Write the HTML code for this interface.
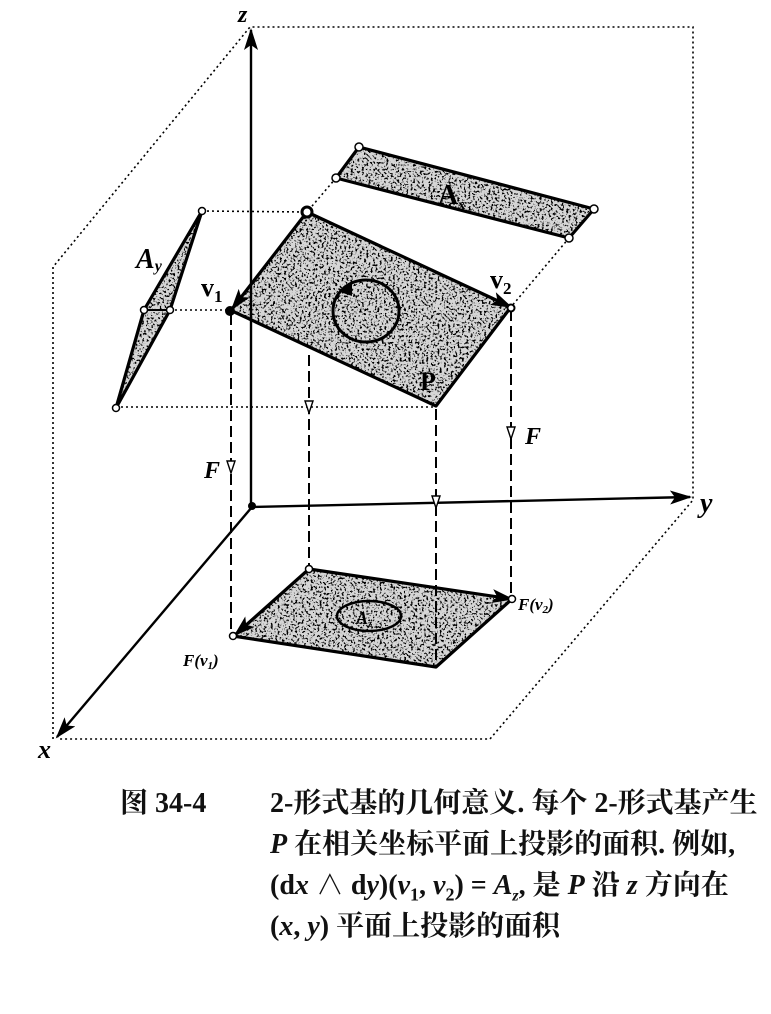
<!DOCTYPE html>
<html><head><meta charset="utf-8"><style>
html,body{margin:0;padding:0;background:#fff;width:771px;height:1014px;overflow:hidden}
svg{position:absolute;left:0;top:0}
.cap{position:absolute;font-family:"Liberation Serif","Noto Serif CJK SC",serif;font-weight:bold;font-size:28px;color:#111;line-height:41px;white-space:nowrap}
.it{font-style:italic}
</style></head><body>
<svg width="771" height="1014" viewBox="0 0 771 1014">
<defs>
<filter id="tx" x="0" y="0" width="100%" height="100%" filterUnits="objectBoundingBox">
<feTurbulence type="fractalNoise" baseFrequency="0.45" numOctaves="2" seed="3" result="n"/>
<feColorMatrix in="n" type="matrix" values="0 0 0 0 0  0 0 0 0 0  0 0 0 0 0  -9 0 0 0 4.3" result="a"/>
<feFlood flood-color="#d6d6d6" result="bg"/>
<feComposite in="SourceGraphic" in2="a" operator="in" result="dk"/>
<feMerge><feMergeNode in="bg"/><feMergeNode in="dk"/></feMerge>
</filter>
<marker id="ab" markerWidth="22" markerHeight="14" refX="20" refY="7" orient="auto" markerUnits="userSpaceOnUse"><path d="M0,0 L22,7 L0,14 L5,7z" fill="#000"/></marker>
<clipPath id="cP"><polygon points="307,212 511,307 436,406 230,310"/></clipPath>
<clipPath id="cX"><polygon points="359,147 594,209 569,238 336,178"/></clipPath>
<clipPath id="cY"><polygon points="202,211 170,310 116,408 144,310"/></clipPath>
<clipPath id="cZ"><polygon points="309,569 512,599 436,667 233,636"/></clipPath>
</defs>
<g fill="none" stroke="#000" stroke-width="1.6" stroke-dasharray="2,3">
<polyline points="53,739 53,267 250,27 693,27 693,500 490,739 58,739"/>
<line x1="202" y1="211" x2="307" y2="212"/>
<line x1="170" y1="310" x2="230" y2="310"/>
<line x1="116" y1="407" x2="436" y2="407"/>
<line x1="336" y1="178" x2="307" y2="212"/>
<line x1="569" y1="238" x2="511" y2="307"/>
</g>
<g clip-path="url(#cP)"><rect x="225" y="205" width="290" height="206" fill="#000" filter="url(#tx)"/></g>
<g clip-path="url(#cX)"><rect x="330" y="140" width="270" height="104" fill="#000" filter="url(#tx)"/></g>
<g clip-path="url(#cY)"><rect x="110" y="205" width="96" height="208" fill="#000" filter="url(#tx)"/></g>
<g clip-path="url(#cZ)"><rect x="228" y="562" width="290" height="110" fill="#000" filter="url(#tx)"/></g>
<line x1="251" y1="506" x2="251" y2="30" stroke="#000" stroke-width="2.4" marker-end="url(#ab)"/>
<line x1="252" y1="507" x2="690" y2="497" stroke="#000" stroke-width="2.4" marker-end="url(#ab)"/>
<line x1="252" y1="507" x2="57" y2="737" stroke="#000" stroke-width="2.4" marker-end="url(#ab)"/>
<circle cx="252" cy="506" r="4" fill="#000"/>
<g stroke="#000" stroke-width="2" stroke-dasharray="11,5" fill="none">
<line x1="231" y1="314" x2="231" y2="633"/>
<line x1="309" y1="355" x2="309" y2="567"/>
<line x1="436" y1="409" x2="436" y2="665"/>
<line x1="511" y1="310" x2="511" y2="597"/>
</g>
<g fill="#fff" stroke="#000" stroke-width="1.4">
<path d="M305,401 L313,401 L309,413z"/>
<path d="M227,461 L235,461 L231,473z"/>
<path d="M507,427 L515,427 L511,439z"/>
<path d="M432,496 L440,496 L436,508z"/>
</g>
<g fill="none" stroke="#000" stroke-width="3.2" stroke-linejoin="round">
<polyline points="230,310 436,406 511,307"/>
<line x1="307" y1="212" x2="511" y2="307" marker-end="url(#ab)"/>
<line x1="307" y1="212" x2="232" y2="309" marker-end="url(#ab)"/>
<polygon points="359,147 594,209 569,238 336,178"/>
<polygon points="202,211 170,310 116,408 144,310"/>
<polyline points="233,636 436,667 512,599"/>
<line x1="309" y1="569" x2="512" y2="599" marker-end="url(#ab)"/>
<line x1="309" y1="569" x2="235" y2="635" marker-end="url(#ab)"/>
<line x1="144" y1="310" x2="170" y2="310" stroke-width="2"/>
</g>
<ellipse cx="366" cy="311" rx="33" ry="31" fill="none" stroke="#000" stroke-width="3"/>
<path d="M340,292 L352,282 L352,296z" fill="#000"/>
<ellipse cx="369" cy="616" rx="32" ry="15" fill="none" stroke="#000" stroke-width="2.5"/>
<g fill="#fff" stroke="#000" stroke-width="1.5">
<circle cx="307" cy="212" r="5" stroke-width="3"/>
<circle cx="359" cy="147" r="4"/><circle cx="594" cy="209" r="4"/><circle cx="569" cy="238" r="4"/><circle cx="336" cy="178" r="4"/>
<circle cx="202" cy="211" r="3.5"/><circle cx="144" cy="310" r="3.5"/><circle cx="170" cy="310" r="3.5"/><circle cx="116" cy="408" r="3.5"/>
<circle cx="309" cy="569" r="3.5"/><circle cx="512" cy="599" r="3.5"/><circle cx="233" cy="636" r="3.5"/>
<circle cx="511" cy="308" r="3.5" stroke-width="2"/>
</g>
<circle cx="230" cy="311" r="5" fill="#000"/>
<g font-family="Liberation Serif,serif" font-weight="bold" font-style="italic" fill="#000">
<text x="238" y="22" font-size="24">z</text>
<text x="700" y="512" font-size="28">y</text>
<text x="38" y="758" font-size="26">x</text>
<text x="201" y="296" font-size="26" font-style="normal">v<tspan font-size="17" dy="6">1</tspan></text>
<text x="490" y="288" font-size="26" font-style="normal">v<tspan font-size="17" dy="6">2</tspan></text>
<text x="420" y="390" font-size="26" font-style="normal">P</text>
<text x="438" y="204" font-size="28" font-style="normal">A<tspan font-size="14" dy="5">x</tspan></text>
<text x="136" y="268" font-size="28">A<tspan font-size="16" dy="3">y</tspan></text>
<text x="204" y="478" font-size="24">F</text>
<text x="525" y="444" font-size="24">F</text>
<text x="356" y="624" font-size="18">A<tspan font-size="10" dy="3">z</tspan></text>
<text x="183" y="666" font-size="17">F(v<tspan font-size="11" dy="3">1</tspan><tspan dy="-3">)</tspan></text>
<text x="518" y="610" font-size="17">F(v<tspan font-size="11" dy="3">2</tspan><tspan dy="-3">)</tspan></text>
</g>
</svg>
<div class="cap" style="left:120px;top:783px">图 34-4</div>
<div class="cap" style="left:270px;top:783px">2-形式基的几何意义. 每个 2-形式基产生</div>
<div class="cap" style="left:270px;top:824px"><span class="it">P</span> 在相关坐标平面上投影的面积. 例如,</div>
<div class="cap" style="left:270px;top:865px">(d<span class="it">x</span> ∧ d<span class="it">y</span>)(<span class="it">v</span><sub style="font-size:18px">1</sub>, <span class="it">v</span><sub style="font-size:18px">2</sub>) = <span class="it">A<sub style="font-size:16px">z</sub></span>, 是 <span class="it">P</span> 沿 <span class="it">z</span> 方向在</div>
<div class="cap" style="left:270px;top:906px">(<span class="it">x</span>, <span class="it">y</span>) 平面上投影的面积</div>
</body></html>
